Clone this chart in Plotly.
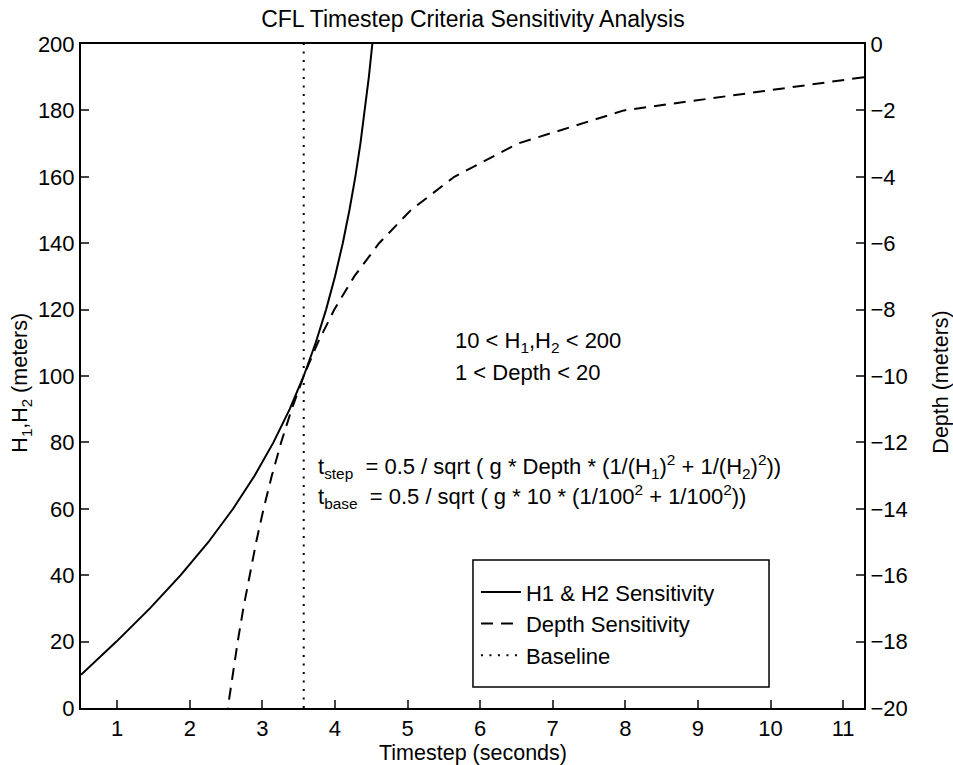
import plotly.graph_objects as go

# H1 & H2 sensitivity (left axis)
h_values = [10, 20, 30, 40, 50, 60, 70, 80, 90, 100, 110, 120, 130, 140, 150, 160, 170, 180, 190, 200]
h_timestep = [0.502, 0.990, 1.451, 1.875, 2.258, 2.597, 2.895, 3.153, 3.377, 3.570,
              3.735, 3.878, 4.001, 4.108, 4.200, 4.281, 4.351, 4.413, 4.467, 4.515]

# Depth sensitivity (right axis)
depth_values = [-1, -2, -3, -4, -5, -6, -7, -8, -9, -10, -11, -12, -13, -14, -15, -16, -17, -18, -19, -20]
depth_timestep = [11.288, 7.982, 6.517, 5.644, 5.048, 4.608, 4.266, 3.991, 3.763, 3.570,
                  3.404, 3.259, 3.131, 3.017, 2.915, 2.822, 2.738, 2.661, 2.590, 2.524]

# Baseline
baseline_x = [3.570, 3.570]
baseline_y = [0, 200]

x_ticks = [1, 2, 3, 4, 5, 6, 7, 8, 9, 10, 11]
y_ticks = [0, 20, 40, 60, 80, 100, 120, 140, 160, 180, 200]
y2_ticks = [-20, -18, -16, -14, -12, -10, -8, -6, -4, -2, 0]
y2_labels = ["\u221220", "\u221218", "\u221216", "\u221214", "\u221212", "\u221210",
             "\u22128", "\u22126", "\u22124", "\u22122", "0"]

FONT = "Liberation Sans, Arial, Helvetica, sans-serif"
FS = 22

fig = go.Figure()
fig.add_trace(go.Scatter(x=h_timestep, y=h_values, mode="lines", name="H1 & H2 Sensitivity",
                         line=dict(color="black", width=2)))
fig.add_trace(go.Scatter(x=depth_timestep, y=depth_values, mode="lines", name="Depth Sensitivity",
                         line=dict(color="black", width=2, dash="12px,8px"), yaxis="y2"))
fig.add_trace(go.Scatter(x=baseline_x, y=baseline_y, mode="lines", name="Baseline",
                         line=dict(color="black", width=2, dash="2px,6.5px")))

axis_common = dict(ticks="inside", ticklen=8, tickwidth=1.5, showline=True, linecolor="black",
                   linewidth=2, showgrid=False, zeroline=False, automargin=False,
                   tickfont=dict(size=FS))

fig.update_layout(
    width=953, height=765,
    margin=dict(l=81, r=89, t=44, b=57, autoexpand=False),
    paper_bgcolor="white", plot_bgcolor="white",
    font=dict(family=FONT, size=FS, color="black"),
    title=dict(text="CFL Timestep Criteria Sensitivity Analysis", x=0.5006, xanchor="center",
               xref="paper", y=1 - 19 / 765, yref="container", yanchor="middle",
               font=dict(size=23)),
    xaxis=dict(range=[0.502, 11.288], tickvals=x_ticks, mirror=True, **axis_common),
    yaxis=dict(range=[0, 200], tickvals=y_ticks, **axis_common),
    yaxis2=dict(range=[-20, 0], tickvals=y2_ticks, ticktext=y2_labels,
                overlaying="y", side="right", **axis_common),
    legend=dict(x=0.5044, y=0.206, xanchor="left", yanchor="top", borderwidth=0,
                bgcolor="rgba(0,0,0,0)", font=dict(size=FS), itemwidth=40),
    showlegend=True,
)

# legend frame
fig.add_shape(type="rect", xref="paper", yref="paper", x0=0.5006, x1=0.8787, y0=0.0316, y1=0.2229,
              line=dict(color="black", width=1.5), fillcolor="rgba(0,0,0,0)", layer="above")

# axis titles
fig.add_annotation(text="Timestep (seconds)", xref="paper", yref="paper", x=0.501, y=-45 / 664,
                   xanchor="center", yanchor="middle", showarrow=False, font=dict(size=21.5))
fig.add_annotation(text="H<sub>1</sub>,H<sub>2</sub> (meters)", xref="paper", yref="paper",
                   x=-59 / 783, y=0.49, xanchor="center", yanchor="middle", textangle=-90,
                   showarrow=False, font=dict(size=21.5))
fig.add_annotation(text="Depth (meters)", xref="paper", yref="paper", x=1 + 77 / 783, y=0.49,
                   xanchor="center", yanchor="middle", textangle=-90, showarrow=False,
                   font=dict(size=21.5))

# text annotations
fig.add_annotation(x=5.63, y=110.2, xref="x", yref="y", xanchor="left", yanchor="middle",
                   showarrow=False, text="10 < H<sub>1</sub>,H<sub>2</sub> < 200")
fig.add_annotation(x=5.63, y=101.2, xref="x", yref="y", xanchor="left", yanchor="middle",
                   showarrow=False, text="1 < Depth < 20")
fig.add_annotation(x=3.74, y=72.6, xref="x", yref="y", xanchor="left", yanchor="middle",
                   showarrow=False,
                   text="t<sub>step</sub>  = 0.5 / sqrt ( g * Depth * (1/(H<sub>1</sub>)<sup>2</sup> + 1/(H<sub>2</sub>)<sup>2</sup>))")
fig.add_annotation(x=3.74, y=63.6, xref="x", yref="y", xanchor="left", yanchor="middle",
                   showarrow=False,
                   text="t<sub>base</sub>  = 0.5 / sqrt ( g * 10 * (1/100<sup>2</sup> + 1/100<sup>2</sup>))")

fig.write_html("out.html", config={"displayModeBar": False},
               post_script="document.body.style.margin='0px';document.body.style.overflow='hidden';")
